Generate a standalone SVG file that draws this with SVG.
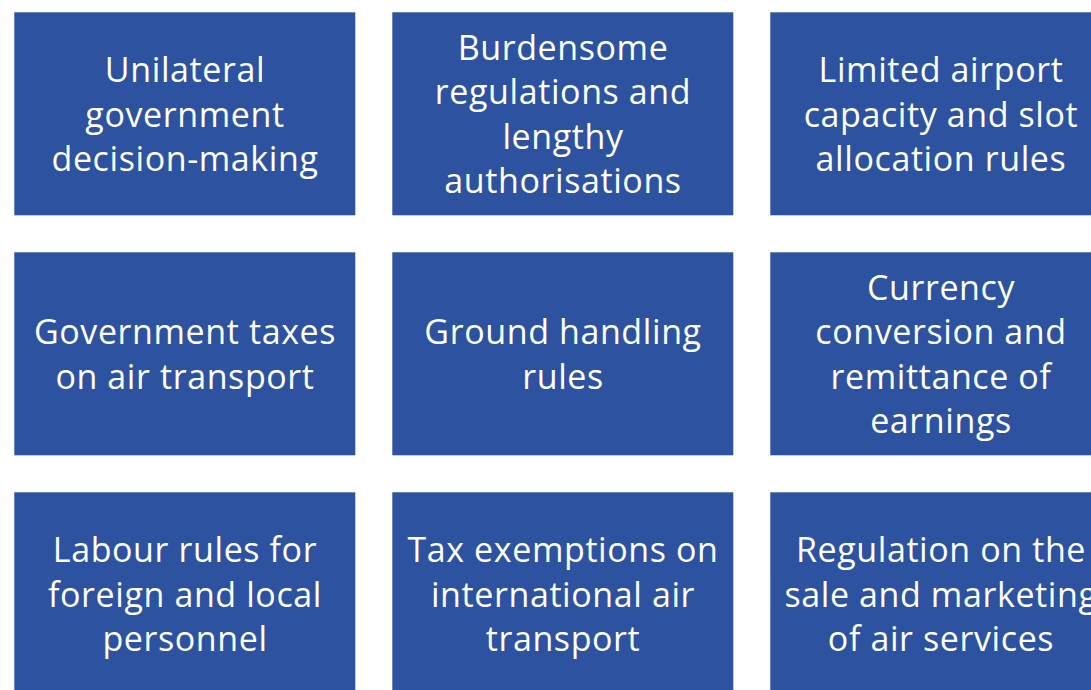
<svg xmlns="http://www.w3.org/2000/svg" width="1091" height="690" viewBox="0 0 1091 690">
  <style>
    .box { fill: #2D52A0; }
    .lbl { fill: #ffffff; font-family: "Open Sans", "Liberation Sans", sans-serif; font-size: 34px; letter-spacing: 0.6px; text-anchor: middle; }
  </style>
  <rect width="1091" height="690" fill="#ffffff"/>

  <!-- row 1 -->
  <g id="unilateral-decisions">
    <rect class="box" x="14.3" y="12.3" width="341" height="203"/>
    <text class="lbl" x="185" y="82">Unilateral</text>
    <text class="lbl" x="185" y="126.5">government</text>
    <text class="lbl" x="185" y="171">decision-making</text>
  </g>
  <g id="burdensome-regulations">
    <rect class="box" x="392.3" y="12.3" width="341" height="203"/>
    <text class="lbl" x="563" y="59.7">Burdensome</text>
    <text class="lbl" x="563" y="104.2">regulations and</text>
    <text class="lbl" x="563" y="148.7">lengthy</text>
    <text class="lbl" x="563" y="193.2">authorisations</text>
  </g>
  <g id="airport-capacity">
    <rect class="box" x="770.3" y="12.3" width="341" height="203"/>
    <text class="lbl" x="941" y="82">Limited airport</text>
    <text class="lbl" x="941" y="126.5">capacity and slot</text>
    <text class="lbl" x="941" y="171">allocation rules</text>
  </g>

  <!-- row 2 -->
  <g id="government-taxes">
    <rect class="box" x="14.3" y="252.3" width="341" height="203"/>
    <text class="lbl" x="185" y="344.3">Government taxes</text>
    <text class="lbl" x="185" y="388.8">on air transport</text>
  </g>
  <g id="ground-handling">
    <rect class="box" x="392.3" y="252.3" width="341" height="203"/>
    <text class="lbl" x="563" y="344.3">Ground handling</text>
    <text class="lbl" x="563" y="388.8">rules</text>
  </g>
  <g id="currency-conversion">
    <rect class="box" x="770.3" y="252.3" width="341" height="203"/>
    <text class="lbl" x="941" y="299.7">Currency</text>
    <text class="lbl" x="941" y="344.2">conversion and</text>
    <text class="lbl" x="941" y="388.7">remittance of</text>
    <text class="lbl" x="941" y="433.2">earnings</text>
  </g>

  <!-- row 3 -->
  <g id="labour-rules">
    <rect class="box" x="14.3" y="492.3" width="341" height="203"/>
    <text class="lbl" x="185" y="562">Labour rules for</text>
    <text class="lbl" x="185" y="606.5">foreign and local</text>
    <text class="lbl" x="185" y="651">personnel</text>
  </g>
  <g id="tax-exemptions">
    <rect class="box" x="392.3" y="492.3" width="341" height="203"/>
    <text class="lbl" x="563" y="562">Tax exemptions on</text>
    <text class="lbl" x="563" y="606.5">international air</text>
    <text class="lbl" x="563" y="651">transport</text>
  </g>
  <g id="sale-marketing">
    <rect class="box" x="770.3" y="492.3" width="341" height="203"/>
    <text class="lbl" x="941" y="562">Regulation on the</text>
    <text class="lbl" x="941" y="606.5">sale and marketing</text>
    <text class="lbl" x="941" y="651">of air services</text>
  </g>

  <g id="connectors"/>
</svg>
